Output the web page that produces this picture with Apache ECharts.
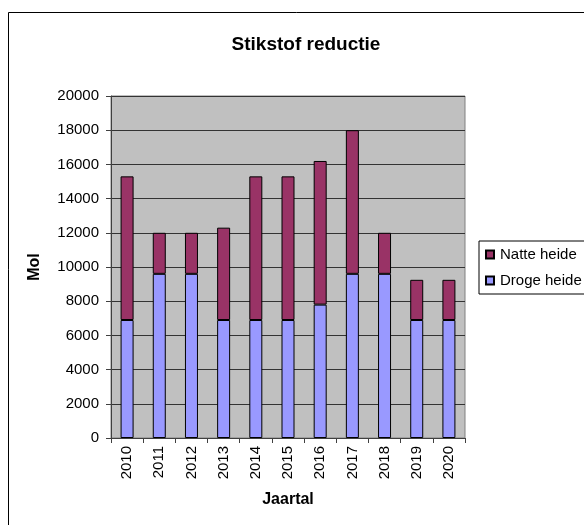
<!DOCTYPE html>
<html>
<head>
<meta charset="utf-8">
<script src="https://cdn.jsdelivr.net/npm/echarts@6/dist/echarts.min.js"></script>
<style>
  html, body { margin: 0; padding: 0; background: #fff; }
  #chart { width: 584px; height: 525px; }
</style>
</head>
<body>
<div id="chart"></div>
<script>
// Years on the category axis
const years = ['2010', '2011', '2012', '2013', '2014', '2015', '2016', '2017', '2018', '2019', '2020'];
// Nitrogen reduction per heath type (mol), stacked
const drogeHeide = [6900, 9600, 9600, 6900, 6900, 6900, 7800, 9600, 9600, 6900, 6900];
const natteHeide = [8400, 2400, 2400, 5400, 8400, 8400, 8400, 8400, 2400, 2350, 2350];
// Value axis range
const yMin = 0, yMax = 20000, yStep = 2000;

const FONT = '"Liberation Sans", Arial, sans-serif';
const chart = echarts.init(document.getElementById('chart'), null, { renderer: 'canvas' });

chart.setOption({
  animation: false,
  backgroundColor: '#ffffff',
  textStyle: { fontFamily: FONT, color: '#000' },
  graphic: [{
    type: 'rect',
    shape: { x: 8.5, y: 12.5, width: 700, height: 700 },
    style: { fill: 'none', stroke: '#000', lineWidth: 1 },
    silent: true,
    z: -10
  }],
  title: {
    text: 'Stikstof reductie',
    left: 301,
    top: 30,
    textAlign: 'center',
    textStyle: { fontFamily: FONT, fontSize: 19, fontWeight: 'bold', color: '#000' }
  },
  legend: {
    orient: 'vertical',
    left: 479,
    top: 241,
    padding: [6, 8, 6, 6],
    itemWidth: 8,
    itemHeight: 8,
    itemGap: 11,
    icon: 'rect',
    borderColor: '#000',
    borderWidth: 1,
    backgroundColor: '#fff',
    data: ['Natte heide', 'Droge heide'],
    textStyle: { fontFamily: FONT, fontSize: 15, color: '#000', padding: [0, 0, 0, 1] }
  },
  grid: {
    left: 111,
    right: 119,
    top: 96,
    bottom: 87,
    show: true,
    backgroundColor: '#C0C0C0',
    borderColor: '#808080',
    borderWidth: 1,
    containLabel: false
  },
  xAxis: {
    type: 'category',
    data: years,
    name: 'Jaartal',
    nameLocation: 'middle',
    nameGap: 54,
    nameTextStyle: { fontFamily: FONT, fontSize: 16, fontWeight: 'bold', color: '#000' },
    axisLine: { show: true, lineStyle: { color: '#404040', width: 1 } },
    axisTick: { show: true, length: 5, lineStyle: { color: '#404040' } },
    axisLabel: { rotate: 90, margin: 8, fontFamily: FONT, fontSize: 15, color: '#000' },
    splitLine: { show: false }
  },
  yAxis: {
    type: 'value',
    min: yMin,
    max: yMax,
    interval: yStep,
    name: 'Mol',
    nameLocation: 'middle',
    nameRotate: 90,
    nameGap: 68,
    nameTextStyle: { fontFamily: FONT, fontSize: 16, fontWeight: 'bold', color: '#000' },
    axisLine: { show: true, lineStyle: { color: '#404040', width: 1 } },
    axisTick: { show: true, length: 5, lineStyle: { color: '#404040' } },
    axisLabel: {
      margin: 12,
      fontFamily: FONT,
      fontSize: 15,
      color: '#000',
      formatter: (v) => String(v)
    },
    splitLine: { show: true, lineStyle: { color: '#333', width: 1 } }
  },
  series: [
    {
      name: 'Droge heide',
      type: 'bar',
      stack: 'heide',
      data: drogeHeide,
      barWidth: 13,
      itemStyle: { color: '#9999FF', borderColor: '#000', borderWidth: 1 }
    },
    {
      name: 'Natte heide',
      type: 'bar',
      stack: 'heide',
      data: natteHeide,
      barWidth: 13,
      itemStyle: { color: '#993366', borderColor: '#000', borderWidth: 1 }
    }
  ]
});
</script>
</body>
</html>
